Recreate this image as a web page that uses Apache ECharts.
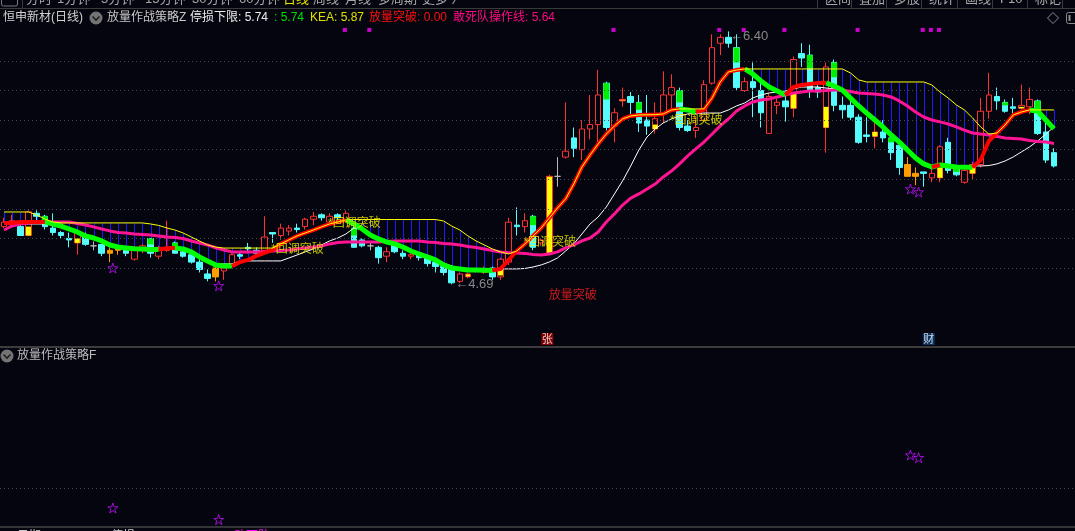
<!DOCTYPE html>
<html>
<head>
<meta charset="utf-8">
<title>恒申新材(日线)</title>
<script src="https://cdn.jsdelivr.net/npm/echarts@6.0.0/dist/echarts.min.js"></script>
<style>
html,body{margin:0;padding:0;background:#05050f;overflow:hidden;}
#chart{width:1075px;height:531px;}
</style>
</head>
<body>
<div id="chart"></div>
<script>
// ---------------- data ----------------
const opens = [5.08,5.09,5.08,5.02,5.17,5.15,5.07,5.04,5.00,4.97,
5.02,4.95,4.96,4.90,4.92,4.94,4.86,4.92,5.00,4.88,
4.92,4.97,4.91,4.89,4.84,4.76,4.74,4.78,4.82,4.89,
4.94,4.92,4.92,5.04,5.02,5.05,5.07,5.08,5.13,5.16,
5.11,5.16,5.12,5.07,4.99,4.95,4.94,4.88,4.96,4.90,
4.88,4.89,4.87,4.84,4.81,4.81,4.71,4.74,4.78,4.77,
4.80,4.74,4.84,5.09,5.08,5.15,4.97,4.90,5.42,5.55,
5.68,5.60,5.74,5.77,6.05,5.76,5.93,5.96,5.92,5.80,
5.74,5.84,5.97,6.00,5.76,5.73,5.80,6.05,6.32,6.36,
6.29,6.00,6.06,6.00,5.71,5.90,5.93,5.88,6.25,6.24,
6.02,5.75,6.19,5.90,5.90,5.82,5.70,5.69,5.72,5.68,
5.63,5.50,5.42,5.45,5.41,5.41,5.65,5.47,5.38,5.44,
5.50,5.86,5.96,5.92,5.89,5.88,5.89,5.93,5.72,5.58];
const closes = [5.11,5.12,5.02,5.18,5.15,5.08,5.04,5.02,4.99,5.04,
4.96,4.95,4.90,4.92,4.93,4.90,4.94,4.95,4.90,4.94,
4.94,4.90,4.88,4.84,4.79,4.73,4.80,4.80,4.89,4.88,
4.93,4.90,5.01,5.03,5.07,5.07,5.06,5.13,5.15,5.14,
5.15,5.14,5.17,4.94,4.95,4.95,4.87,4.91,4.91,4.88,
4.89,4.87,4.83,4.81,4.77,4.70,4.76,4.76,4.79,4.79,
4.74,4.86,5.11,5.08,5.12,4.94,4.99,5.42,5.42,5.59,
5.61,5.74,5.77,5.97,5.75,5.85,5.94,5.92,5.78,5.76,
5.81,5.97,6.02,5.75,5.73,5.75,6.04,6.29,6.36,6.32,
6.02,6.06,6.02,5.85,5.96,5.92,5.89,6.21,6.22,6.00,
5.99,6.16,5.90,5.87,5.82,5.65,5.69,5.72,5.68,5.58,
5.48,5.42,5.44,5.44,5.44,5.62,5.46,5.43,5.46,5.50,
5.86,5.97,5.93,5.86,5.88,5.90,5.94,5.71,5.53,5.49];
const lows = [5.07,5.07,5.02,5.02,5.12,5.06,5.02,5.00,4.94,4.89,
4.95,4.92,4.88,4.84,4.89,4.88,4.85,4.90,4.87,4.86,
4.91,4.90,4.87,4.83,4.77,4.71,4.71,4.72,4.81,4.86,
4.90,4.89,4.91,4.97,4.99,5.02,5.04,5.06,5.09,5.12,
5.10,5.11,5.11,4.94,4.94,4.92,4.83,4.84,4.90,4.86,
4.86,4.85,4.81,4.77,4.75,4.69,4.70,4.73,4.77,4.76,
4.72,4.72,4.82,5.02,5.04,4.92,4.95,4.89,5.35,5.54,
5.55,5.53,5.67,5.65,5.73,5.65,5.89,5.84,5.72,5.70,
5.71,5.78,5.87,5.73,5.72,5.68,5.79,6.04,6.24,6.29,
6.00,5.99,5.82,5.75,5.71,5.84,5.79,5.82,6.16,5.95,
5.95,5.58,5.86,5.81,5.80,5.64,5.65,5.61,5.65,5.53,
5.43,5.42,5.36,5.35,5.38,5.38,5.44,5.42,5.37,5.40,
5.48,5.81,5.87,5.85,5.82,5.87,5.84,5.70,5.51,5.48];
const highs = [5.14,5.16,5.10,5.19,5.19,5.16,5.17,5.05,5.04,5.04,
5.04,4.98,4.96,4.94,4.93,4.95,4.95,4.96,5.00,4.95,
5.12,4.98,4.92,4.90,4.88,4.79,4.81,4.81,4.90,4.91,
4.97,4.94,5.15,5.04,5.10,5.09,5.10,5.14,5.18,5.17,
5.17,5.17,5.19,5.09,5.00,4.97,4.95,4.94,4.98,4.92,
4.90,4.90,4.88,4.85,4.82,4.82,4.77,4.77,4.80,4.81,
4.81,4.87,5.14,5.21,5.17,5.16,5.00,5.43,5.55,5.92,
5.75,5.80,5.97,6.14,6.06,5.88,6.02,5.99,5.97,5.97,
5.92,6.13,6.11,6.02,5.80,5.82,6.07,6.38,6.38,6.40,
6.38,6.09,6.19,6.07,5.98,5.96,5.98,6.23,6.32,6.31,
6.05,6.19,6.21,5.96,5.96,5.84,5.82,5.82,5.80,5.71,
5.65,5.55,5.48,5.45,5.48,5.63,5.68,5.48,5.48,5.52,
5.95,6.12,6.02,5.94,5.95,6.04,6.02,5.94,5.80,5.61];

// 停损下限 (thick line)
const stopLine = [5.105,5.105,5.111,5.111,5.112,5.112,5.098,5.084,5.064,5.044,
5.017,5.003,4.983,4.956,4.942,4.936,4.930,4.928,4.926,4.925,
4.934,4.935,4.929,4.909,4.875,4.848,4.821,4.814,4.813,4.841,
4.855,4.882,4.902,4.922,4.963,4.990,5.017,5.037,5.057,5.078,
5.098,5.111,5.125,5.098,5.064,5.024,4.997,4.976,4.963,4.942,
4.915,4.895,4.875,4.855,4.821,4.800,4.794,4.787,4.786,4.785,
4.784,4.794,4.855,4.915,4.963,5.017,5.071,5.138,5.206,5.267,
5.368,5.483,5.564,5.639,5.706,5.761,5.808,5.828,5.835,5.836,
5.837,5.842,5.869,5.876,5.869,5.855,5.869,5.950,6.058,6.126,
6.139,6.146,6.112,6.065,6.024,5.997,5.970,6.024,6.038,6.045,
6.051,6.052,6.031,6.004,5.950,5.896,5.848,5.801,5.754,5.700,
5.652,5.598,5.544,5.504,5.483,5.497,5.490,5.483,5.482,5.481,
5.531,5.659,5.713,5.767,5.835,5.855,5.869,5.862,5.801,5.742];
// KEA (thin yellow)
const keaLine = [5.179,5.179,5.179,5.179,5.159,5.132,5.111,5.105,5.105,5.105,
5.105,5.105,5.105,5.105,5.105,5.105,5.105,5.105,5.098,5.088,
5.071,5.057,5.037,5.010,4.983,4.956,4.942,4.935,4.935,4.935,
4.935,4.935,4.935,4.935,4.963,4.990,5.017,5.037,5.057,5.078,
5.098,5.111,5.125,5.128,5.128,5.128,5.128,5.128,5.128,5.128,
5.128,5.128,5.128,5.128,5.118,5.084,5.057,5.017,4.983,4.956,
4.929,4.909,4.895,4.915,4.963,5.017,5.071,5.138,5.206,5.267,
5.368,5.483,5.564,5.639,5.706,5.761,5.808,5.828,5.835,5.836,
5.837,5.842,5.869,5.876,5.876,5.876,5.876,5.950,6.058,6.126,
6.139,6.146,6.146,6.146,6.146,6.146,6.146,6.146,6.146,6.146,
6.146,6.146,6.146,6.146,6.119,6.072,6.058,6.058,6.058,6.058,
6.058,6.058,6.058,6.058,6.038,5.990,5.950,5.903,5.869,5.815,
5.754,5.706,5.713,5.767,5.835,5.855,5.869,5.869,5.869,5.869];
// 敢死队操作线 (pink)
const dareLine = [5.057,5.084,5.098,5.105,5.111,5.111,5.111,5.111,5.111,5.101,
5.091,5.078,5.064,5.051,5.040,5.037,5.030,5.027,5.024,5.017,
5.010,5.007,5.000,4.983,4.969,4.956,4.936,4.922,4.909,4.909,
4.909,4.909,4.912,4.915,4.919,4.922,4.929,4.936,4.942,4.949,
4.963,4.973,4.976,4.976,4.976,4.976,4.976,4.980,4.983,4.983,
4.983,4.983,4.976,4.973,4.966,4.963,4.956,4.946,4.939,4.929,
4.919,4.909,4.905,4.902,4.899,4.892,4.888,4.895,4.909,4.936,
4.956,4.983,5.003,5.044,5.111,5.166,5.226,5.273,5.301,5.334,
5.368,5.416,5.456,5.504,5.558,5.605,5.652,5.706,5.761,5.808,
5.862,5.896,5.923,5.936,5.943,5.957,5.970,5.984,5.990,5.997,
5.997,6.000,6.004,6.004,5.994,5.984,5.980,5.977,5.970,5.957,
5.930,5.896,5.855,5.821,5.801,5.788,5.774,5.754,5.733,5.713,
5.706,5.700,5.690,5.679,5.676,5.673,5.662,5.656,5.652,5.642];
// thin white line
const midLine = [5.098,5.098,5.098,5.098,5.098,5.098,5.098,5.084,5.064,5.044,
5.017,5.003,4.983,4.956,4.942,4.936,4.929,4.929,4.929,4.929,
4.929,4.929,4.922,4.909,4.875,4.848,4.828,4.828,4.828,4.848,
4.848,4.848,4.848,4.848,4.848,4.868,4.888,4.909,4.929,4.956,
4.983,5.003,5.030,5.071,5.057,5.030,5.003,4.983,4.963,4.942,
4.922,4.902,4.882,4.861,4.834,4.814,4.800,4.794,4.794,4.794,
4.794,4.794,4.794,4.794,4.797,4.807,4.821,4.841,4.868,4.915,
4.963,5.030,5.098,5.145,5.213,5.301,5.389,5.490,5.598,5.686,
5.740,5.781,5.808,5.828,5.842,5.845,5.848,5.848,5.848,5.869,
5.896,5.916,5.950,5.970,5.984,5.990,5.997,6.011,6.024,6.024,
6.024,6.017,6.011,5.990,5.943,5.889,5.842,5.794,5.747,5.693,
5.645,5.591,5.544,5.504,5.490,5.490,5.490,5.490,5.490,5.490,
5.490,5.493,5.504,5.524,5.551,5.585,5.619,5.659,5.706,5.754];

// coloured parts painted over candle bodies: [index, top, bottom]
const greenSticks = [[5,5.15,5.12],[15,4.94,4.92],[18,5.00,4.96],[21,4.97,4.94],[43,5.07,5.02],
[60,4.80,4.77],[65,5.15,5.09],[74,6.05,5.94],[78,5.92,5.87],[83,6.00,5.92],[90,6.29,6.19],
[99,6.24,6.15],[102,6.19,6.09],[109,5.68,5.65],[117,5.47,5.45],[123,5.92,5.90],[127,5.93,5.85]];
const yellowSticks = [[3,5.08,5.02],[9,5.00,4.97],[61,4.79,4.75],[80,5.77,5.74],[97,5.98,5.88],
[101,5.89,5.75],[107,5.72,5.69],[115,5.48,5.41],[119,5.48,5.44],[125,5.89,5.88]];

// signals
const noteIdx = [33, 40, 64, 82];
const notePrice = [4.922, 5.098, 4.969, 5.794];
const breakIdx = 67, breakPrice = 4.611;
const lowIdx = 55, lowPrice = 4.69;
const highIdx = 89, highPrice = 6.40;
const dotIdx = [42, 45, 75, 88, 91, 96, 105, 113, 114, 115];
const dotPrice = 6.41;
const starIdx = [13, 26, 111, 112];
const starPrice = [4.80, 4.68, 5.334, 5.314];
const starLower = [1.006, 0.358, 3.966, 3.816];
const zhangIdx = 67, caiIdx = 114, markerPrice = 4.32;
const mainGridVals = [4.8, 5.0, 5.2, 5.4, 5.6, 5.8, 6.0, 6.2];
const lowerGridVal = 2.12;

// ---------------- styles ----------------
const FONT = '"Liberation Sans","Noto Sans CJK SC",sans-serif';
const BG = '#05050f';
const UP = '#ff3232', DOWN = '#54fcfc';
const yellowCandles = [20, 57, 67, 76];
const orangeCandles = [13, 14, 26, 111, 112];
const grayCandles = [11, 45, 68];

const N = opens.length;
const cats = opens.map((_, i) => String(i + 1));

const candleData = opens.map((o, i) => {
  const v = [o, closes[i], lows[i], highs[i]];
  let st = null;
  if (yellowCandles.includes(i)) st = {color:'#ffff00', color0:'#ffff00', borderColor:UP, borderColor0:UP, borderColorDoji:UP};
  else if (orangeCandles.includes(i)) st = {color:'#ff9c00', color0:'#ff9c00', borderColor:'#ff9c00', borderColor0:'#ff9c00', borderColorDoji:'#ff9c00'};
  else if (grayCandles.includes(i)) st = {color:BG, color0:BG, borderColor:'#b8b8b8', borderColor0:'#b8b8b8', borderColorDoji:'#b8b8b8'};
  return st ? {value: v, itemStyle: st} : v;
});

const redPart = stopLine.map(() => null), greenPart = stopLine.map(() => null);
for (let i = 0; i < N - 1; i++) {
  const t = stopLine[i + 1] >= stopLine[i] ? redPart : greenPart;
  t[i] = stopLine[i]; t[i + 1] = stopLine[i + 1];
}

function stickRender(color, w) {
  return function (params, api) {
    const a = api.coord([api.value(0), api.value(1)]);
    const b = api.coord([api.value(0), api.value(2)]);
    return {type:'rect', shape:{x:a[0] - w / 2, y:a[1], width:w, height:Math.max(1, b[1] - a[1])}, style:{fill:color}};
  };
}
function blueRender(params, api) {
  const i = api.value(0), top = api.value(1), bot = api.value(2);
  if (top - bot < 0.004) return null;
  const a = api.coord([i, top]), b = api.coord([i, bot]);
  const x = Math.round(a[0]) + 0.5;
  return {type:'line', shape:{x1:x, y1:a[1], x2:x, y2:b[1]}, style:{stroke:'#1a1aff', lineWidth:1}};
}

const STAR = 'path://M50 0 L61.8 35.4 L99 35.4 L69 57.3 L80.3 92.7 L50 70.8 L19.7 92.7 L31 57.3 L1 35.4 L38.2 35.4 Z';

function T(x, y, text, fill, size, valign) {
  return {type:'text', x:x, y:y, silent:true, z:100,
    style:{text:text, fill:fill, font:(size || 12) + 'px ' + FONT, textAlign:'left', align:'left',
      textVerticalAlign:valign || 'middle', verticalAlign:valign || 'middle'}};
}
function L(x1, y1, x2, y2, c, w) {
  return {type:'line', silent:true, z:100, shape:{x1, y1, x2, y2}, style:{stroke:c, lineWidth:w || 1}};
}
function icon(cx, cy) {
  return [
    {type:'circle', silent:true, z:100, shape:{cx, cy, r:6.5}, style:{fill:'#747474'}},
    {type:'polyline', silent:true, z:101, shape:{points:[[cx - 3.5, cy - 1.5], [cx, cy + 2], [cx + 3.5, cy - 1.5]]}, style:{stroke:'#202020', lineWidth:1.6, fill:null}}
  ];
}

const g = [];
// top menu strip (cut at the top)
g.push({type:'rect', silent:true, z:100, shape:{x:1.5, y:-6, width:16, height:12, r:2}, style:{stroke:'#7a7a7a', fill:null}});
g.push(L(22.5, 0, 22.5, 8, '#3a3a3a'));
const menu = [['分时',26],['1分钟',57],['5分钟',101],['15分钟',145],['30分钟',192],['60分钟',239],['日线',283],['周线',313],['月线',345],['多周期',378],['更多 〉',422]];
menu.forEach(m => g.push(T(m[1], 5.5, m[0], m[0] === '日线' ? '#e6e600' : '#a8a8a8', 13, 'bottom')));
const seps = [817, 851, 886, 921, 957, 992, 1027, 1062];
seps.forEach(x => g.push(L(x + 0.5, 0, x + 0.5, 8, '#3a3a3a')));
const btns = ['区间','叠加','多股','统计','画线','F10','标记'];
btns.forEach((b, k) => g.push(T(seps[k] + 8, 5.5, b, '#a8a8a8', 13, 'bottom')));
g.push(L(0, 8.5, 1075, 8.5, '#3a3a3a'));
// main header
g.push(T(3, 18, '恒申新材(日线)', '#d2d2d2', 12));
icon(96, 18).forEach(e => g.push(e));
g.push(T(107, 18, '放量作战策略Z', '#c8c8c8', 12));
g.push(T(190, 18, '停损下限: ' + stopLine[N - 1].toFixed(2), '#ececec', 12));
g.push(T(274, 18, ': ' + stopLine[N - 1].toFixed(2), '#00e000', 12));
g.push(T(310, 18, 'KEA: ' + keaLine[N - 1].toFixed(2), '#e0e000', 12));
g.push(T(369, 18, '放量突破: 0.00', '#ff1010', 12));
g.push(T(453, 18, '敢死队操作线: ' + dareLine[N - 1].toFixed(2), '#ff0a82', 12));
g.push({type:'polygon', silent:true, z:100, shape:{points:[[1053,12.5],[1058.5,18],[1053,23.5],[1047.5,18]]}, style:{stroke:'#8c8c8c', fill:null}});
g.push({type:'rect', silent:true, z:100, shape:{x:1066.5, y:12.5, width:14, height:11, r:2}, style:{stroke:'#8c8c8c', fill:null}});
g.push(L(1069.5, 15, 1069.5, 21, '#8c8c8c', 2));
// pane separators
g.push(L(0, 347, 1075, 347, '#3c3c3c', 2));
g.push(L(0, 527, 1075, 527, '#464646', 1.5));
// lower header
icon(7, 356).forEach(e => g.push(e));
g.push(T(17, 356, '放量作战策略F', '#bdbdbd', 12));
// bottom row (cut off)
g.push({type:'circle', silent:true, z:100, shape:{cx:7, cy:538, r:6}, style:{fill:'#747474'}});
g.push(T(17, 531, '日期 2024/07/10  停损', '#c8c8c8', 12, 'top'));
g.push(T(141, 531, '5.74', '#c8c8c8', 12, 'top'));
g.push(T(169, 531, 'KEA: 5.87', '#e0e000', 12, 'top'));
g.push(T(234, 531, '敢死队: 5.64', '#ff00ff', 12, 'top'));

const option = {
  backgroundColor: BG,
  animation: false,
  textStyle: {fontFamily: FONT},
  grid: [
    {left:-1, right:17, top:28, height:319},
    {left:-1, right:17, top:347, height:179},
    {left:0, right:0, top:28, height:319},
    {left:0, right:0, top:347, height:179}
  ],
  xAxis: [
    {type:'category', gridIndex:0, data:cats, show:false},
    {type:'category', gridIndex:1, data:cats, show:false},
    {type:'value', gridIndex:2, min:0, max:1, show:false},
    {type:'value', gridIndex:3, min:0, max:1, show:false}
  ],
  yAxis: [
    {type:'value', gridIndex:0, min:4.266, max:6.423, show:false, splitLine:{show:false}},
    {type:'value', gridIndex:1, min:0, max:10, show:false, splitLine:{show:false}},
    {type:'value', gridIndex:2, min:4.266, max:6.423, show:false, splitLine:{show:false}},
    {type:'value', gridIndex:3, min:0, max:10, show:false, splitLine:{show:false}}
  ],
  graphic: {elements: g},
  series: [
    {type:'line', xAxisIndex:2, yAxisIndex:2, silent:true, z:0, symbol:'none', data:[[0, 5], [1, 5]], lineStyle:{opacity:0},
      markLine:{silent:true, symbol:['none','none'], label:{show:false}, animation:false,
        lineStyle:{type:[1,3], color:'#4a4a56', width:1}, data:mainGridVals.map(v => ({yAxis:v}))}},
    {type:'line', xAxisIndex:3, yAxisIndex:3, silent:true, z:0, symbol:'none', data:[[0, 5], [1, 5]], lineStyle:{opacity:0},
      markLine:{silent:true, symbol:['none','none'], label:{show:false}, animation:false,
        lineStyle:{type:[1,3], color:'#4a4a56', width:1}, data:[{yAxis:lowerGridVal}]}},
    {type:'custom', xAxisIndex:0, yAxisIndex:0, z:1, silent:true, renderItem:blueRender,
      data:keaLine.map((v, i) => [i, v, stopLine[i]])},
    {type:'candlestick', xAxisIndex:0, yAxisIndex:0, z:2, silent:true, barWidth:6,
      itemStyle:{color:BG, color0:DOWN, borderColor:UP, borderColor0:DOWN, borderWidth:1},
      data:candleData},
    {type:'custom', xAxisIndex:0, yAxisIndex:0, z:3, silent:true, renderItem:stickRender('#00ee00', 6), data:greenSticks},
    {type:'custom', xAxisIndex:0, yAxisIndex:0, z:3, silent:true, renderItem:stickRender('#ffff00', 5), data:yellowSticks},
    {type:'line', xAxisIndex:0, yAxisIndex:0, z:4, silent:true, symbol:'none', data:midLine, lineStyle:{color:'#ffffff', width:1}},
    {type:'line', xAxisIndex:0, yAxisIndex:0, z:5, silent:true, symbol:'none', data:dareLine, lineStyle:{color:'#ff1493', width:3}},
    {type:'line', xAxisIndex:0, yAxisIndex:0, z:6, silent:true, symbol:'none', data:greenPart, lineStyle:{color:'#00ff00', width:5}},
    {type:'line', xAxisIndex:0, yAxisIndex:0, z:6, silent:true, symbol:'none', data:redPart, lineStyle:{color:'#ff0000', width:4}},
    {type:'line', xAxisIndex:0, yAxisIndex:0, z:7, silent:true, symbol:'none', data:keaLine, lineStyle:{color:'#ffff00', width:1}},
    // annotations
    {type:'scatter', xAxisIndex:0, yAxisIndex:0, z:10, silent:true, symbolSize:1, itemStyle:{color:'rgba(0,0,0,0)'},
      data: noteIdx.map((x, k) => ({value:[x, notePrice[k]],
        label:{show:true, position:'right', distance:-2, formatter:'*回调突破', color:'#f0f000', fontSize:12, fontFamily:FONT}}))
        .concat([
          {value:[breakIdx, breakPrice], label:{show:true, position:'right', distance:-1, formatter:'放量突破', color:'#ff2020', fontSize:12, fontFamily:FONT}},
          {value:[lowIdx, lowPrice], label:{show:true, position:'right', distance:3, formatter:'←' + lowPrice.toFixed(2), color:'#a8a8a8', fontSize:13, fontFamily:FONT}},
          {value:[highIdx, highPrice], label:{show:true, position:'right', distance:1, offset:[0, 5], formatter:'←' + highPrice.toFixed(2), color:'#a8a8a8', fontSize:13, fontFamily:FONT}}
        ])},
    {type:'scatter', xAxisIndex:0, yAxisIndex:0, z:9, silent:true, symbol:'rect', symbolSize:4, symbolOffset:[-1, 0],
      itemStyle:{color:'#ff00ff'}, data: dotIdx.map(x => [x, dotPrice])},
    {type:'scatter', xAxisIndex:0, yAxisIndex:0, z:9, silent:true, symbol:STAR, symbolSize:10, symbolOffset:[3, 0],
      itemStyle:{color:'rgba(0,0,0,0)', borderColor:'#c010ff', borderWidth:1}, data: starIdx.map((x, k) => [x, starPrice[k]])},
    {type:'scatter', xAxisIndex:1, yAxisIndex:1, z:9, silent:true, symbol:STAR, symbolSize:10, symbolOffset:[3, 0],
      itemStyle:{color:'rgba(0,0,0,0)', borderColor:'#c010ff', borderWidth:1}, data: starIdx.map((x, k) => [x, starLower[k]])},
    {type:'scatter', xAxisIndex:0, yAxisIndex:0, z:9, silent:true, symbol:'rect', symbolSize:12,
      data:[
        {value:[zhangIdx, markerPrice], symbolOffset:[-2, 0], itemStyle:{color:'#a00000'},
          label:{show:true, position:'inside', formatter:'张', color:'#ffffff', fontSize:11, fontFamily:'"Noto Sans CJK SC",sans-serif'}},
        {value:[caiIdx, markerPrice], symbolOffset:[-3, 0], itemStyle:{color:'#0b3d72'},
          label:{show:true, position:'inside', formatter:'财', color:'#ffffff', fontSize:11, fontFamily:'"Noto Sans CJK SC",sans-serif'}}
      ]}
  ]
};
const chart = echarts.init(document.getElementById('chart'), null, {renderer:'canvas'});
chart.setOption(option);
</script>
</body>
</html>
